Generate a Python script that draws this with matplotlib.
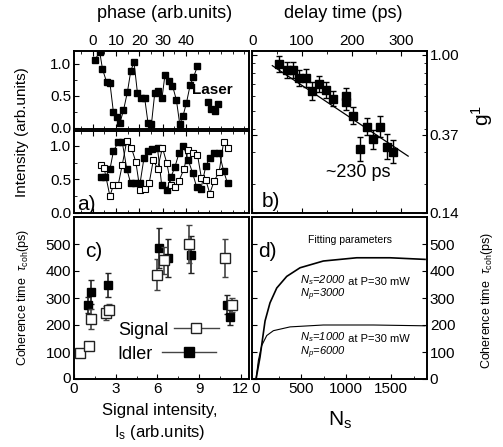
import numpy as np
import matplotlib.pyplot as plt
from matplotlib.ticker import FixedLocator, MultipleLocator, NullFormatter, LogLocator

plt.rcParams['font.family'] = ['Liberation Sans', 'DejaVu Sans']
plt.rcParams['mathtext.fontset'] = 'custom'
plt.rcParams['mathtext.rm'] = 'Liberation Sans'
plt.rcParams['mathtext.it'] = 'Liberation Sans:italic'
plt.rcParams['xtick.direction'] = 'in'
plt.rcParams['ytick.direction'] = 'in'
plt.rcParams['axes.linewidth'] = 1.4

# a) laser interference (top)
laser_phase = [1.0, 3.0, 4.2, 6.0, 7.4, 8.9, 10.3, 11.7, 13.2, 14.9, 16.3, 17.7, 19.2, 20.9,
               22.3, 23.7, 25.2, 26.6, 28.0, 29.7, 31.0, 32.5, 34.2, 35.9, 37.3, 38.7, 40.2,
               41.8, 43.2, 44.9, 49.5, 50.9, 52.4, 53.9]
laser_int = [1.06, 1.19, 0.92, 0.71, 0.70, 0.24, 0.17, 0.08, 0.27, 0.56, 0.88, 1.03, 0.54, 0.47,
             0.46, 0.08, 0.06, 0.54, 0.58, 0.46, 0.83, 0.73, 0.66, 0.43, 0.06, 0.18, 0.39,
             0.67, 0.79, 0.96, 0.40, 0.30, 0.26, 0.37]

# a) signal / idler interference (bottom)
idl_phase = [3.4, 5.2, 7.4, 8.9, 10.9, 12.7, 14.6, 16.3, 18.2, 20.3, 22.0, 23.7, 25.6, 27.8, 29.6,
             31.8, 33.5, 35.3, 37.0, 38.9, 40.9, 42.8, 44.6, 46.4, 48.5, 50.2, 52.1, 54.2, 56.1, 57.8]
idl_int = [0.53, 0.53, 0.65, 0.92, 1.05, 1.05, 0.66, 0.44, 0.44, 0.44, 0.82, 0.92, 0.95, 0.96, 0.41,
           0.34, 0.53, 0.69, 0.89, 1.00, 0.79, 0.60, 0.38, 0.36, 0.70, 0.82, 0.90, 0.90, 0.63, 0.44]
sig_phase = [3.4, 4.9, 7.4, 8.9, 10.9, 12.7, 14.6, 16.6, 18.5, 20.3, 22.3, 24.2, 26.0, 27.8, 29.9,
             31.8, 33.5, 35.2, 37.0, 39.2, 40.9, 42.8, 44.9, 46.6, 48.5, 50.2, 52.1, 54.2, 56.1, 57.8]
sig_int = [0.72, 0.67, 0.25, 0.42, 0.41, 0.72, 1.07, 0.97, 0.76, 0.34, 0.36, 0.44, 0.79, 0.66, 0.97,
           0.74, 0.42, 0.38, 0.48, 0.66, 0.94, 0.90, 0.87, 0.52, 0.49, 0.29, 0.48, 0.61, 1.05, 0.97]

# b) g1 vs delay
delay = [54, 69, 81, 94, 108, 121, 135, 148, 163, 189, 189, 202, 230, 243, 257, 216, 271, 284]
g1 = [0.89, 0.83, 0.83, 0.75, 0.75, 0.64, 0.70, 0.65, 0.58, 0.60, 0.56, 0.47, 0.41, 0.35, 0.41,
      0.31, 0.32, 0.30]
g1_lnerr = [0.10, 0.10, 0.10, 0.10, 0.11, 0.11, 0.10, 0.10, 0.09, 0.10, 0.10, 0.11, 0.11, 0.12,
            0.13, 0.15, 0.16, 0.14]
fit_delay = [40, 314]
fit_g1 = [0.875, 0.284]

# c) coherence time vs signal intensity
sig_I = [0.43, 1.1, 1.2, 2.3, 2.5, 6.0, 6.45, 8.3, 10.9, 11.4]
sig_tau = [98, 122, 222, 244, 256, 387, 440, 500, 449, 275]
sig_err = [8, 12, 37, 25, 20, 57, 50, 70, 70, 25]
idl_I = [1.0, 1.2, 2.45, 6.1, 6.8, 8.4, 11.05, 11.2]
idl_tau = [275, 323, 348, 486, 449, 461, 275, 230]
idl_err = [30, 45, 45, 75, 70, 70, 35, 30]

# d) fitted curves
ns_hi = [0, 44, 100, 155, 230, 341, 489, 748, 1119, 1489, 1878]
tau_hi = [0, 81, 215, 282, 337, 380, 412, 437, 449, 449, 443]
ns_lo = [0, 26, 63, 119, 193, 378, 748, 1304, 1878]
tau_lo = [0, 69, 124, 161, 179, 193, 200, 200, 197]

W, H = 503, 447
fig = plt.figure(figsize=(W / 100, H / 100), dpi=100)


def box(x0, y0, x1, y1):
    return [x0 / W, 1 - y1 / H, (x1 - x0) / W, (y1 - y0) / H]


def ftext(x, y, s, **kw):
    fig.text(x / W, 1 - y / H, s, ha='center', va='center', **kw)


ax_at = fig.add_axes(box(74, 51, 249, 129))
ax_ab = fig.add_axes(box(74, 131, 249, 213))
ax_b = fig.add_axes(box(252, 51, 427, 213))
ax_c = fig.add_axes(box(74, 217, 249, 379))
ax_d = fig.add_axes(box(252, 217, 427, 379))

# --- a) top
ax_at.plot(laser_phase[:30], laser_int[:30], '-', color='k', lw=0.7)
ax_at.plot(laser_phase[30:], laser_int[30:], '-', color='k', lw=0.7)
ax_at.plot(laser_phase, laser_int, 's', color='k', ms=4.5, ls='none')
ax_at.set_xlim(-8, 67)
ax_at.set_ylim(-0.02, 1.2)
ax_at.set_xticks([0, 10, 20, 30, 40], ['0', '10', '20', '30', '40'])
ax_at.xaxis.set_minor_locator(MultipleLocator(5))
ax_at.tick_params(axis='x', which='both', top=True, bottom=True, labeltop=True, labelbottom=False)
ax_at.set_yticks([0.0, 0.5, 1.0], ['0.0', '0.5', '1.0'])
ax_at.yaxis.set_minor_locator(MultipleLocator(0.25))
ax_at.tick_params(labelsize=11, pad=2)
ax_at.text(0.79, 0.5, 'Laser', transform=ax_at.transAxes, fontsize=11, fontweight='bold',
           ha='center', va='center')

# --- a) bottom
ax_ab.plot(idl_phase, idl_int, '-s', color='k', lw=0.7, ms=5, mfc='k', mec='k')
ax_ab.plot(sig_phase, sig_int, '-s', color='k', lw=0.7, ms=5, mfc='white', mec='k', mew=0.8)
ax_ab.set_xlim(-8, 67)
ax_ab.set_ylim(0, 1.22)
ax_ab.set_xticks([0, 10, 20, 30, 40])
ax_ab.xaxis.set_minor_locator(MultipleLocator(5))
ax_ab.tick_params(axis='x', which='both', top=True, labelbottom=False)
ax_ab.set_yticks([0.0, 0.5, 1.0], ['0.0', '0.5', '1.0'])
ax_ab.yaxis.set_minor_locator(MultipleLocator(0.25))
ax_ab.tick_params(labelsize=11, pad=2)
ax_ab.text(0.02, 0.1, 'a)', transform=ax_ab.transAxes, fontsize=15, ha='left', va='center')

# --- b)
g1 = np.array(g1)
e = np.array(g1_lnerr)
yerr = [g1 - g1 * np.exp(-e), g1 * np.exp(e) - g1]
ax_b.errorbar(delay, g1, yerr=yerr, fmt='s', color='k', ms=6.2, ecolor='k', elinewidth=1,
              capsize=2, capthick=1)
ax_b.plot(fit_delay, fit_g1, '-', color='k', lw=0.9)
ax_b.set_yscale('log')
ax_b.set_xlim(-1, 352)
ax_b.set_ylim(0.14, 1.05)
ax_b.yaxis.set_major_locator(FixedLocator([1.0, 0.37, 0.14]))
ax_b.yaxis.set_major_formatter(plt.FixedFormatter(['1.00', '0.37', '0.14']))
ax_b.yaxis.set_minor_locator(LogLocator(base=10, subs=np.arange(2, 10) * 0.1, numticks=20))
ax_b.yaxis.set_minor_formatter(NullFormatter())
ax_b.xaxis.set_major_locator(FixedLocator([0, 100, 200, 300]))
ax_b.xaxis.set_major_formatter(plt.FixedFormatter(['', '100', '200', '300']))
ax_b.xaxis.set_minor_locator(MultipleLocator(50))
ax_b.tick_params(axis='x', which='both', top=True, bottom=True, labeltop=True, labelbottom=False)
ax_b.tick_params(axis='y', which='both', left=True, right=True, labelleft=False, labelright=True)
ax_b.tick_params(labelsize=11, pad=2)
ax_b.annotate('0', xy=(0, 1), xycoords=ax_b.get_xaxis_transform(), xytext=(0, 2),
              textcoords='offset points', ha='center', va='bottom', fontsize=11,
              annotation_clip=False)
ax_b.text(0.606, 0.247, '~230 ps', transform=ax_b.transAxes, fontsize=13, ha='center', va='center')
ax_b.text(0.057, 0.068, 'b)', transform=ax_b.transAxes, fontsize=15, ha='left', va='center')

# --- c)
ax_c.errorbar(idl_I, idl_tau, yerr=idl_err, fmt='s', color='k', ms=6, ecolor='#222222',
              elinewidth=1.2, capsize=2, capthick=1, zorder=2)
ax_c.errorbar(sig_I, sig_tau, yerr=sig_err, fmt='s', mfc='white', mec='#222222', mew=1, ms=7.5,
              ecolor='#444444', elinewidth=1.2, capsize=2, capthick=1, zorder=3)
ax_c.set_xlim(0, 12.6)
ax_c.set_ylim(0, 600)
ax_c.set_xticks([0, 3, 6, 9, 12], ['0', '3', '6', '9', '12'])
ax_c.xaxis.set_minor_locator(MultipleLocator(1.5))
ax_c.set_yticks([0, 100, 200, 300, 400, 500], ['', '100', '200', '300', '400', '500'])
ax_c.tick_params(labelsize=11, pad=2)
ax_c.annotate('0', xy=(0, 0), xycoords=ax_c.get_yaxis_transform(), xytext=(-2, 0),
              textcoords='offset points', ha='right', va='center', fontsize=11,
              annotation_clip=False)
ax_c.text(0.063, 0.784, 'c)', transform=ax_c.transAxes, fontsize=15, ha='left', va='center')
h_sig, = ax_c.plot([], [], '-s', color='#444444', lw=1, ms=7.5, mfc='white', mec='#222222')
h_idl, = ax_c.plot([], [], '-s', color='#444444', lw=1, ms=7.5, mfc='k', mec='k')
leg1 = ax_c.legend([h_sig], ['Signal'], loc='center left', bbox_to_anchor=(0.25, 0.302),
                   markerfirst=False, frameon=False, fontsize=13, handlelength=2.5,
                   handletextpad=0.3, borderpad=0, borderaxespad=0)
ax_c.add_artist(leg1)
ax_c.legend([h_idl], ['Idler'], loc='center left', bbox_to_anchor=(0.25, 0.154),
            markerfirst=False, frameon=False, fontsize=13, handlelength=3.0,
            handletextpad=0.5, borderpad=0, borderaxespad=0)

# --- d)
ax_d.plot(ns_hi, tau_hi, '-', color='k', lw=1.2)
ax_d.plot(ns_lo, tau_lo, '-', color='k', lw=0.8)
ax_d.set_xlim(-45, 1900)
ax_d.set_ylim(0, 600)
ax_d.set_xticks([0, 500, 1000, 1500], ['0', '500', '1000', '1500'])
ax_d.xaxis.set_minor_locator(MultipleLocator(250))
ax_d.set_yticks([0, 100, 200, 300, 400, 500], ['0', '100', '200', '300', '400', '500'])
ax_d.tick_params(axis='y', which='both', left=True, right=True, labelleft=False, labelright=True)
ax_d.tick_params(labelsize=11, pad=2)
ax_d.text(0.034, 0.784, 'd)', transform=ax_d.transAxes, fontsize=15, ha='left', va='center')
ax_d.text(0.56, 0.858, 'Fitting parameters', transform=ax_d.transAxes, fontsize=7.5,
          ha='center', va='center')
for y, main, rest in [(0.593, 'N$_s$=2000', ' at P=30 mW'), (0.506, 'N$_p$=3000', ''),
                      (0.241, 'N$_s$=1000', ' at P=30 mW'), (0.148, 'N$_p$=6000', '')]:
    t = ax_d.text(0.274, y, main, transform=ax_d.transAxes, fontsize=8, style='italic',
                  ha='left', va='baseline')
    if rest:
        ax_d.annotate(rest, xy=(1, 0), xycoords=t, fontsize=8, ha='left', va='bottom')

# figure-level labels
ftext(165, 13, 'phase (arb.units)', fontsize=13)
ftext(343, 13, 'delay time (ps)', fontsize=13)
ftext(482, 115, 'g$^\\mathrm{1}$', fontsize=15, rotation=90)
ftext(22, 132, 'Intensity (arb.units)', fontsize=11, rotation=90)
ftext(23, 297, 'Coherence time  $\\tau_\\mathrm{coh}$(ps)', fontsize=9, rotation=90)
ftext(487, 300, 'Coherence time  $\\tau_\\mathrm{coh}$(ps)', fontsize=9, rotation=90)
ftext(160, 410, 'Signal intensity,', fontsize=12)
ftext(160, 432, 'I$_\\mathrm{s}$ (arb.units)', fontsize=12)
ftext(340, 420, 'N$_\\mathrm{s}$', fontsize=15)

fig.savefig('out.png', dpi=100)
